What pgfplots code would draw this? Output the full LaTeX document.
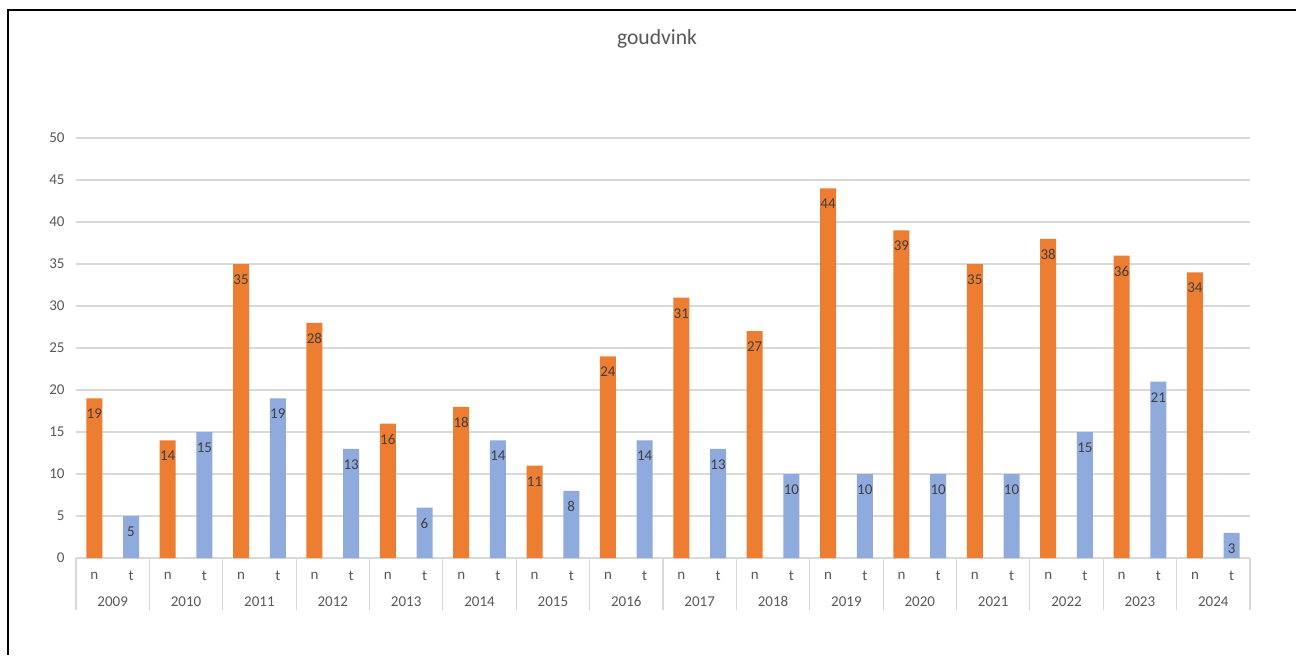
\documentclass[border=0pt]{standalone}
\usepackage{fontspec}
\setmainfont{Carlito}
\usepackage{pgfplots}
\pgfplotsset{compat=1.18}
\definecolor{orn}{HTML}{ED7D31}
\definecolor{blu}{HTML}{8FAADC}
\definecolor{lbl}{HTML}{595959}
\definecolor{grd}{HTML}{D9D9D9}
\definecolor{dlab}{HTML}{404040}
\begin{document}
\begin{tikzpicture}
\useasboundingbox (0,0) rectangle (648pt,327.5pt);
\fill[white] (0,0) rectangle (648pt,327.5pt);
\draw[black, line width=0.8pt] (4pt,0) -- (4pt,322.5pt) -- (648pt,322.5pt);
\node[lbl, font=\fontsize{10.8}{12}\selectfont] at (328.5pt,308pt) {goudvink};
\begin{axis}[
  at={(38pt,48.5pt)}, anchor=south west,
  scale only axis, width=587pt, height=210pt,
  xmin=-0.5, xmax=31.5, ymin=0, ymax=50,
  ytick={0,5,...,50},
  xtick={0,...,31},
  xticklabels={n,t,n,t,n,t,n,t,n,t,n,t,n,t,n,t,n,t,n,t,n,t,n,t,n,t,n,t,n,t,n,t},
  major tick length=0pt,
  axis line style={draw=none},
  ymajorgrids, major grid style={grd, line width=0.6pt},
  /pgf/number format/assume math mode=true,
  tick label style={lbl, font=\fontsize{7.5}{8}\selectfont},
  yticklabel style={anchor=east, inner sep=0pt, xshift=-5.5pt},
  xticklabel style={anchor=center, inner sep=0pt, yshift=-9pt},
  clip=false,
  every node near coord/.append style={dlab, font=\fontsize{7.5}{8}\selectfont, anchor=center, yshift=-7.8pt},
]
\addplot[ybar, bar width=8pt, bar shift=0pt, fill=orn, draw=none, nodes near coords] coordinates {
(0,19) (2,14) (4,35) (6,28) (8,16) (10,18) (12,11) (14,24) (16,31) (18,27) (20,44) (22,39) (24,35) (26,38) (28,36) (30,34)};
\addplot[ybar, bar width=8pt, bar shift=0pt, fill=blu, draw=none, nodes near coords] coordinates {
(1,5) (3,15) (5,19) (7,13) (9,6) (11,14) (13,8) (15,14) (17,13) (19,10) (21,10) (23,10) (25,10) (27,15) (29,21) (31,3)};
\pgfplotsinvokeforeach{-0.5,1.5,3.5,5.5,7.5,9.5,11.5,13.5,15.5,17.5,19.5,21.5,23.5,25.5,27.5,29.5,31.5}{
  \draw[grd, line width=0.6pt] (axis cs:#1,0) -- ([yshift=-26pt]axis cs:#1,0);
}
\pgfplotsinvokeforeach{0,...,15}{
  \node[lbl, font=\fontsize{7.5}{8}\selectfont] at (axis cs:{2*#1+0.5},0) [yshift=-21.8pt] {\pgfmathparse{int(2009+#1)}\pgfmathresult};
}
\end{axis}
\end{tikzpicture}
\end{document}
